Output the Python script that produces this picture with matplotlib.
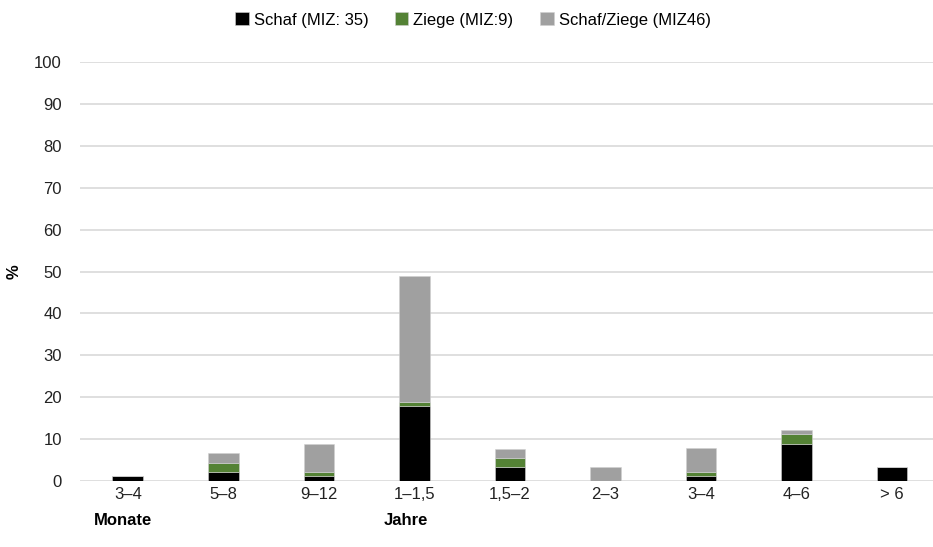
import numpy as np
import matplotlib
matplotlib.use("Agg")
import matplotlib.pyplot as plt

plt.rcParams["font.family"] = ["Liberation Sans", "DejaVu Sans"]

# Data (percent)
categories = ["3–4", "5–8", "9–12", "1–1,5", "1,5–2", "2–3", "3–4", "4–6", "> 6"]
schaf = [1.1, 2.2, 1.1, 17.8, 3.3, 0, 1.1, 8.9, 3.3]
ziege = [0, 2.2, 1.1, 1.1, 2.2, 0, 1.1, 2.2, 0]
schaf_ziege = [0, 2.2, 6.7, 30.0, 2.2, 3.3, 5.6, 1.1, 0]
labels = ["Schaf (MIZ: 35)", "Ziege (MIZ:9)", "Schaf/Ziege (MIZ46)"]
colors = ["#000000", "#548235", "#A0A0A0"]

fig = plt.figure(figsize=(9.33, 5.47), dpi=100)
ax = fig.add_axes([80 / 933, 66 / 547, 1 - 80 / 933, 419 / 547])

x = np.arange(len(categories))
w = 0.32
bottom = np.zeros(len(categories))
for vals, lab, col in zip([schaf, ziege, schaf_ziege], labels, colors):
    vals = np.array(vals)
    ax.bar(x, vals, w, bottom=bottom, color=col, label=lab,
           edgecolor="#d0d0d0", linewidth=0.4, zorder=3)
    bottom += vals

ax.set_ylim(0, 100)
ax.set_xlim(-0.5, 8.43)
ax.set_yticks(range(0, 101, 10))
ax.set_xticks(x)
ax.set_xticklabels(categories)
ax.tick_params(axis="both", length=0, labelsize=12, colors="#222222")
ax.tick_params(axis="x", pad=4)
ax.tick_params(axis="y", pad=13)
ax.grid(axis="y", color="#d9d9d9", linewidth=1.2, zorder=0)
for s in ax.spines.values():
    s.set_visible(False)

ax.set_ylabel("%", fontsize=12, fontweight="bold")
ax.yaxis.set_label_coords(-58 / 853, 0.5)

ax.text(-0.35, -0.095, "Monate", transform=ax.get_xaxis_transform(),
        fontsize=12, fontweight="bold", va="center", ha="left")
ax.text(3 - 0.32, -0.095, "Jahre", transform=ax.get_xaxis_transform(),
        fontsize=12, fontweight="bold", va="center", ha="left")

fig.legend(loc="center", bbox_to_anchor=(473 / 933, 1 - 20 / 547), ncol=3,
           frameon=False, fontsize=12, handlelength=0.8, handleheight=0.8,
           handletextpad=0.3, columnspacing=1.6)

plt.savefig("out.png", dpi=100)
plt.close()
